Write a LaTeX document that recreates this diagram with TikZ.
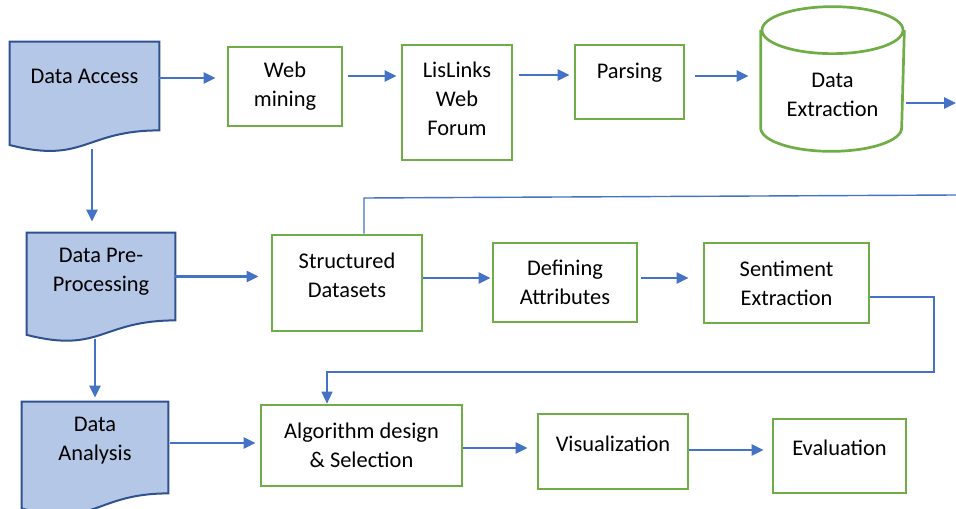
\documentclass[tikz,border=0pt]{standalone}
\usepackage{fontspec}
\setmainfont{Carlito}
\usetikzlibrary{arrows.meta,calc,backgrounds}

\definecolor{gbox}{HTML}{70AD47}
\definecolor{barr}{HTML}{4472C4}
\definecolor{dfill}{HTML}{B4C7E7}
\definecolor{dline}{HTML}{2F528F}

\tikzstyle{gb} = [rectangle, draw=gbox, line width=1.35pt, align=center]
\tikzstyle{dc} = [rectangle, align=center]
\tikzstyle{dcl} = [draw=dline, fill=dfill, line width=1pt]
\tikzstyle{gl} = [draw=gbox, line width=1.35pt]
\tikzstyle{ar} = [draw=barr, line width=1.3pt, -{Triangle[length=6pt,width=5.5pt]}]
\tikzstyle{fb} = [draw=barr, line width=0.7pt]
\tikzstyle{every node}=[font=\fontsize{11.2}{14.5}\selectfont, inner sep=0pt]
\tikzset{tup/.style={execute at end node={\rule[-#1]{0pt}{#1}}}}

% document shape: wavy bottom under the node's rectangle
\newcommand{\docwave}[1]{%
  \draw[dcl] let \p1=(#1.north west), \p2=(#1.south east) in
    (\p1) -- (\x2,\y1) -- (\p2)
    .. controls ({(\x1+\x2)/2},\y2) and ({(\x1+\x2)/2},{\y2-0.381*(\y1-\y2)}) ..
    (\x1,{\y2-0.1646*(\y1-\y2)}) -- cycle;}

\begin{document}
\begin{tikzpicture}[x=0.5pt, y=-0.5pt]
  \useasboundingbox (0,0) rectangle (956,508);

  % left column
  \node[dc, minimum width=74.5pt, minimum height=44pt, tup=10pt] (da) at (84.5,86) {Data Access};
  \node[dc, minimum width=74pt, minimum height=43.5pt, tup=6.3pt] (dp) at (101,276.5) {Data Pre-\\Processing};
  \node[dc, minimum width=73pt, minimum height=45.5pt, tup=8.3pt] (dn) at (95,447.5) {Data\\Analysis};
  \begin{scope}[on background layer]
    \foreach \d in {da,dp,dn} \docwave{\d};
  \end{scope}

  % first row
  \node[gb, minimum width=57pt, minimum height=39.5pt] (wm) at (285,86.5) {Web\\mining};
  \node[gb, minimum width=55pt, minimum height=57.5pt, tup=4pt] (ll) at (457,102.5) {LisLinks\\Web\\Forum};
  \node[gb, minimum width=54.5pt, minimum height=37pt, tup=11.3pt] (ps) at (629.5,82) {Parsing};
  \node[gb, draw=none, minimum width=70.5pt, minimum height=47.5pt, tup=7.5pt] (dx) at (832.5,102.5) {Data\\Extraction};
  \draw[gl] ([yshift=11.75pt]dx.north west) -- ([yshift=11.75pt]dx.south west)
    arc[start angle=180, end angle=360, x radius=35.25pt, y radius=11.75pt]
    -- ([yshift=11.75pt]dx.north east);
  \draw[gl] ([yshift=11.75pt]dx.north) ellipse[x radius=35.25pt, y radius=11.75pt];

  % second row
  \node[gb, minimum width=75pt, minimum height=48pt, tup=8pt] (sd) at (347,283) {Structured\\Datasets};
  \node[gb, minimum width=72pt, minimum height=39.5pt] (df) at (565,282.5) {Defining\\Attributes};
  \node[gb, minimum width=82.5pt, minimum height=40pt] (se) at (786.5,283) {Sentiment\\Extraction};

  % third row
  \node[gb, minimum width=100.5pt, minimum height=40.5pt] (al) at (361.5,445.5) {Algorithm design\\\& Selection};
  \node[gb, minimum width=75pt, minimum height=37.5pt, tup=8pt] (vz) at (613,451.5) {Visualization};
  \node[gb, minimum width=66.5pt, minimum height=37pt, tup=8pt] (ev) at (839.5,456) {Evaluation};

  \coordinate (o1) at (956,103);
  \coordinate (o2) at (956,195);
  \coordinate (k1) at (364,198);
  \coordinate (k2) at (934,297);
  \coordinate (k3) at (934,372);
  \coordinate (k4) at (327,372);

  % arrows
  \draw[ar, shorten >=5.5pt] ([yshift=4pt]da.east) -- ([yshift=4pt]da.east -| wm.west);
  \draw[ar, shorten <=2.5pt, shorten >=2pt] ([yshift=5.25pt]wm.east) -- ([yshift=5.25pt]wm.east -| ll.west);
  \draw[ar, shorten <=3pt, shorten >=2pt] ([yshift=13.75pt]ll.east) -- ([yshift=13.75pt]ll.east -| ps.west);
  \draw[ar, shorten <=5pt, shorten >=6pt] ([yshift=3pt]ps.east) -- ([yshift=3pt]ps.east -| dx.west);
  \draw[ar, shorten <=1pt] (dx.east |- o1) -- (o1);
  \draw[ar, shorten <=9.5pt, shorten >=5.5pt] ([xshift=3.75pt]da.south) -- ([xshift=3.75pt]da.south |- dp.north);
  \draw[ar, shorten >=6pt] (dp.east) -- (dp.east -| sd.west);
  \draw[ar, shorten <=9.5pt, shorten >=2pt] ([xshift=-3pt]dp.south) -- ([xshift=-3pt]dp.south |- dn.north);
  \draw[ar, shorten <=1pt, shorten >=2pt] ([yshift=2.25pt]dn.east) -- ([yshift=2.25pt]dn.east -| al.west);
  \draw[ar, shorten >=0.5pt] ([yshift=2.5pt]sd.east) -- ([yshift=2.5pt]sd.east -| df.west);
  \draw[ar, shorten <=1.5pt, shorten >=7pt] ([yshift=2.25pt]df.east) -- ([yshift=2.25pt]df.east -| se.west);
  \draw[ar, shorten >=4.5pt] ([yshift=-1.25pt]al.east) -- ([yshift=-1.25pt]al.east -| vz.west);
  \draw[ar, shorten >=4pt] ([yshift=0.75pt]vz.east) -- ([yshift=0.75pt]vz.east -| ev.west);

  % feedback lines
  \draw[fb] (sd.north -| k1) -- (k1) -- (o2);
  \draw[fb, -{Triangle[length=6pt,width=5.5pt]}] (se.east |- k2) -- (k2) -- (k3) -- (k4) -- (k4 |- al.north);
\end{tikzpicture}
\end{document}
